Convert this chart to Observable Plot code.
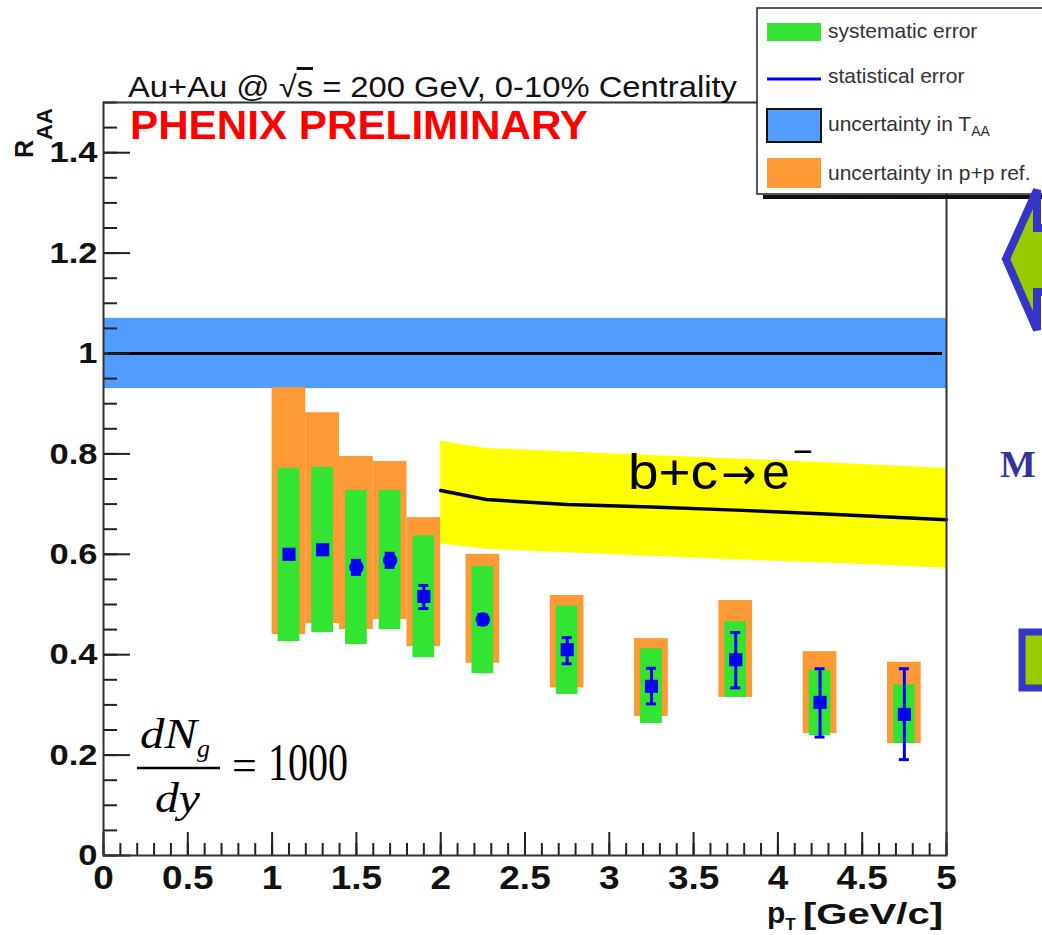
<!DOCTYPE html>
<html>
<head>
<meta charset="utf-8">
<script src="https://cdn.jsdelivr.net/npm/d3@7"></script>
<script src="https://cdn.jsdelivr.net/npm/@observablehq/plot@0.6"></script>
<style>
  html, body { margin: 0; padding: 0; background: #fff; }
  #wrap { position: relative; width: 1042px; height: 935px; overflow: hidden; }
  #wrap svg { position: absolute; left: 0; top: 0; }
  #ov text { font-family: "Liberation Sans", Arial, sans-serif; }
  #ov .serif { font-family: "Liberation Serif", "Times New Roman", serif; }
  #ov .dv { font-family: "DejaVu Sans", sans-serif; }
</style>
</head>
<body>
<div id="wrap"></div>
<script>
// ---------- data ----------
const xDomain = [0, 5];
const yDomain = [0, 1.5];
const xMajor = [0, 0.5, 1, 1.5, 2, 2.5, 3, 3.5, 4, 4.5, 5];
const xLabels = ["0", "0.5", "1", "1.5", "2", "2.5", "3", "3.5", "4", "4.5", "5"];
const yMajor = [0, 0.2, 0.4, 0.6, 0.8, 1, 1.2, 1.4];
const yLabels = ["0", "0.2", "0.4", "0.6", "0.8", "1", "1.2", "1.4"];
const xMinor = d3.range(0, 5.0001, 0.1);
const yMinor = d3.range(0, 1.5001, 0.05);

// T_AA uncertainty band around 1
const taaRange = [0.93, 1.07];

// PHENIX data points
const pt      = [1.1, 1.3, 1.5, 1.7, 1.9, 2.25, 2.75, 3.25, 3.75, 4.25, 4.75];
const binHalf = [0.1, 0.1, 0.1, 0.1, 0.1, 0.1, 0.1, 0.1, 0.1, 0.1, 0.1];
const raa     = [0.600, 0.609, 0.574, 0.588, 0.516, 0.470, 0.410, 0.337, 0.390, 0.305, 0.281];
const statLo  = [0.594, 0.603, 0.560, 0.574, 0.492, 0.460, 0.382, 0.302, 0.334, 0.236, 0.191];
const statHi  = [0.606, 0.615, 0.588, 0.602, 0.538, 0.480, 0.434, 0.373, 0.444, 0.372, 0.372];
const sysLo   = [0.426, 0.444, 0.420, 0.450, 0.394, 0.362, 0.321, 0.263, 0.315, 0.239, 0.223];
const sysHi   = [0.771, 0.773, 0.727, 0.727, 0.637, 0.576, 0.497, 0.412, 0.466, 0.369, 0.340];
const ppLo    = [0.440, 0.462, 0.450, 0.470, 0.416, 0.383, 0.334, 0.277, 0.315, 0.243, 0.223];
const ppHi    = [0.932, 0.882, 0.795, 0.785, 0.673, 0.600, 0.518, 0.432, 0.508, 0.406, 0.385];
const shape   = ["square", "square", "circle", "circle", "square", "circle", "square", "square", "square", "square", "square"];

// b+c -> e theory curve with band
const thX  = [2.0, 2.27, 2.75, 3.25, 3.75, 4.25, 4.75, 5.0];
const thC  = [0.727, 0.709, 0.699, 0.694, 0.688, 0.681, 0.673, 0.669];
const thLo = [0.621, 0.610, 0.603, 0.596, 0.589, 0.583, 0.576, 0.572];
const thHi = [0.825, 0.811, 0.804, 0.797, 0.790, 0.783, 0.775, 0.771];

// ---------- build tables ----------
const pts = pt.map((x, i) => ({
  x, half: binHalf[i], raa: raa[i], sl: statLo[i], sh: statHi[i],
  yl: sysLo[i], yh: sysHi[i], pl: ppLo[i], ph: ppHi[i], shape: shape[i]
}));
const theory = thX.map((x, i) => ({x, c: thC[i], lo: thLo[i], hi: thHi[i]}));

const BLUE = "#0000f5", GREEN = "#33e433", ORANGE = "#fe9a36", BAND = "#509cff", AXIS = "#222";

const plot = Plot.plot({
  width: 1042, height: 935,
  marginLeft: 103, marginRight: 96, marginTop: 102, marginBottom: 80,
  x: {domain: xDomain},
  y: {domain: yDomain},
  style: {fontFamily: '"Liberation Sans", Arial, sans-serif', background: "#fff", color: "#111"},
  marks: [
    Plot.rect([taaRange], {x1: () => xDomain[0], x2: () => xDomain[1], y1: d => d[0], y2: d => d[1], fill: BAND}),
    Plot.ruleY([1], {stroke: "#000", strokeWidth: 3, insetLeft: 5, insetRight: 4}),
    Plot.rect(pts, {x1: d => d.x - d.half, x2: d => d.x + d.half, y1: "pl", y2: "ph", fill: ORANGE}),
    Plot.rect(pts, {x1: d => d.x - d.half, x2: d => d.x + d.half, y1: "yl", y2: "yh", fill: GREEN, insetLeft: 6, insetRight: 6}),
    Plot.areaY(theory, {x: "x", y1: "lo", y2: "hi", fill: "#ffff00"}),
    Plot.line(theory, {x: "x", y: "c", stroke: "#000", strokeWidth: 3.5}),
    Plot.ruleX(pts, {x: "x", y1: "sl", y2: "sh", stroke: BLUE, strokeWidth: 3}),
    Plot.ruleY(pts, {y: "sl", x1: "x", x2: "x", insetLeft: -5, insetRight: -5, stroke: BLUE, strokeWidth: 3}),
    Plot.ruleY(pts, {y: "sh", x1: "x", x2: "x", insetLeft: -5, insetRight: -5, stroke: BLUE, strokeWidth: 3}),
    Plot.dot(pts, {filter: d => d.shape === "square", x: "x", y: "raa", symbol: "square", r: 7.4, fill: BLUE, stroke: "none"}),
    Plot.dot(pts, {filter: d => d.shape === "circle", x: "x", y: "raa", symbol: "circle", r: 7.2, fill: BLUE, stroke: "none"}),
    // axes (ROOT style, ticks inside)
    Plot.axisX({ticks: xMinor, tickSize: -12, fill: "none", stroke: AXIS, strokeWidth: 2, label: null}),
    Plot.axisX({ticks: xMajor, tickSize: -23, fill: "none", stroke: AXIS, strokeWidth: 2, label: null}),
    Plot.axisX({ticks: xMajor, tickSize: 0, tickPadding: 10, tickFormat: d => xLabels[xMajor.indexOf(d)], fontSize: 33, fontWeight: "bold", fill: "#111", label: null}),
    Plot.axisY({ticks: yMinor, tickSize: -14, fill: "none", stroke: AXIS, strokeWidth: 2, label: null}),
    Plot.axisY({ticks: yMajor, tickSize: -27, fill: "none", stroke: AXIS, strokeWidth: 2, label: null}),
    Plot.axisY({ticks: yMajor, tickSize: 0, tickPadding: 6, tickFormat: d => yLabels[yMajor.indexOf(d)], fontSize: 30, fontWeight: "bold", fill: "#111", label: null}),
    Plot.frame({stroke: "#333", strokeWidth: 2})
  ]
});

// horizontally stretch bold tick labels like the original
plot.querySelectorAll('g[aria-label="x-axis tick label"] text').forEach(t => {
  t.setAttribute("transform", (t.getAttribute("transform") || "") + " scale(1.12,1)");
});
plot.querySelectorAll('g[aria-label="y-axis tick label"] text').forEach(t => {
  t.setAttribute("transform", (t.getAttribute("transform") || "") + " scale(1.15,1)");
});

const wrap = document.getElementById("wrap");
wrap.appendChild(plot);

// ---------- annotations, legend, slide decorations ----------
wrap.insertAdjacentHTML("beforeend", `
<svg id="ov" width="1042" height="935" xmlns="http://www.w3.org/2000/svg">
  <text x="128" y="97" font-size="30" fill="#111" textLength="609" lengthAdjust="spacingAndGlyphs">Au+Au @ √<tspan text-decoration="overline">s</tspan> = 200 GeV, 0-10% Centrality</text>
  <text x="130" y="139" font-size="40" font-weight="bold" fill="#ff0000" textLength="458" lengthAdjust="spacingAndGlyphs">PHENIX PRELIMINARY</text>
  <text transform="translate(33,158) rotate(-90)" font-size="25" font-weight="bold" fill="#111">R<tspan dy="19" font-size="22">AA</tspan></text>
  <text x="767" y="923" font-size="30" font-weight="bold" fill="#111">p<tspan font-size="17" dy="7">T</tspan></text>
  <text x="803" y="924" font-size="30" font-weight="bold" fill="#111" textLength="140" lengthAdjust="spacingAndGlyphs">[GeV/c]</text>

  <text x="628" y="489" font-size="50" fill="#000" textLength="90" lengthAdjust="spacingAndGlyphs">b+c</text>
  <text class="dv" x="721" y="489" font-size="44" fill="#000" textLength="35" lengthAdjust="spacingAndGlyphs">→</text>
  <text x="762" y="489" font-size="50" fill="#000">e</text>
  <text x="793" y="463" font-size="34" fill="#000">−</text>

  <text class="serif" x="140" y="748" font-size="42" font-style="italic" fill="#000" textLength="57" lengthAdjust="spacingAndGlyphs">dN</text>
  <text class="serif" x="197" y="757" font-size="26" font-style="italic" fill="#000">g</text>
  <line x1="137" x2="220" y1="768" y2="768" stroke="#000" stroke-width="2.5"/>
  <text class="serif" x="155" y="812" font-size="42" font-style="italic" fill="#000" textLength="45" lengthAdjust="spacingAndGlyphs">dy</text>
  <text class="serif" x="232" y="780" font-size="44" fill="#000">=</text>
  <text class="serif" x="268" y="780" font-size="52" fill="#000" textLength="80" lengthAdjust="spacingAndGlyphs">1000</text>

  <line x1="763" x2="1042" y1="197" y2="197" stroke="#111" stroke-width="4"/>
  <rect x="757" y="8" width="300" height="186" fill="#fff" stroke="#222" stroke-width="1.5"/>
  <rect x="767" y="23" width="54" height="18" fill="${GREEN}"/>
  <line x1="767" x2="821" y1="79" y2="79" stroke="${BLUE}" stroke-width="3"/>
  <rect x="767" y="109" width="54" height="33" fill="${BAND}" stroke="#111" stroke-width="2"/>
  <rect x="767" y="158" width="54" height="30" fill="${ORANGE}"/>
  <text x="828" y="38" font-size="21" fill="#333">systematic error</text>
  <text x="828" y="83" font-size="21" fill="#333">statistical error</text>
  <text x="828" y="131" font-size="21" fill="#333">uncertainty in T<tspan font-size="14" dy="5">AA</tspan></text>
  <text x="828" y="180" font-size="21" fill="#333">uncertainty in p+p ref.</text>

  <path d="M1006,259 L1037,190 L1037,228 L1060,228 L1060,292 L1037,292 L1037,330 Z" fill="#99cc00" stroke="#3535c8" stroke-width="8" stroke-linejoin="miter"/>
  <text class="serif" x="1000" y="477" font-size="38" font-weight="bold" fill="#333399">M</text>
  <rect x="1022" y="632" width="40" height="56" fill="#99cc00" stroke="#3535c8" stroke-width="7"/>
</svg>`);
</script>
</body>
</html>
